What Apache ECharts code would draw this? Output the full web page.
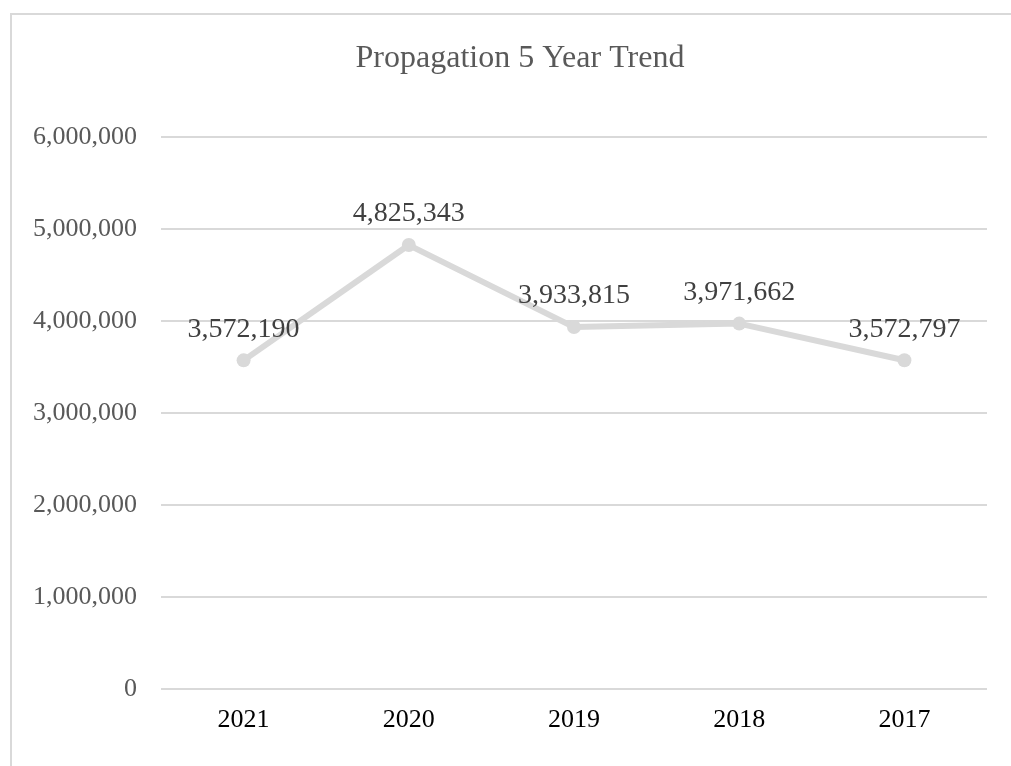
<!DOCTYPE html>
<html>
<head>
<meta charset="utf-8">
<script src="https://cdn.jsdelivr.net/npm/echarts@6/dist/echarts.min.js"></script>
<style>
html,body{margin:0;padding:0;background:#fff;}
#chart{width:1011px;height:766px;}
</style>
</head>
<body>
<div id="chart"></div>
<script>
const titleText = 'Propagation 5 Year Trend';
const categories = ['2021', '2020', '2019', '2018', '2017'];
const values = [3572190, 4825343, 3933815, 3971662, 3572797];
const yMin = 0, yMax = 6000000, yInterval = 1000000;

const font = '"Liberation Serif", "Times New Roman", serif';
const chart = echarts.init(document.getElementById('chart'));
chart.setOption({
  backgroundColor: '#fff',
  animation: false,
  title: {
    text: titleText,
    left: 515,
    top: 38,
    textAlign: 'center',
    textStyle: { fontFamily: font, fontSize: 32, fontWeight: 'normal', color: '#595959' }
  },
  graphic: [{
    type: 'rect',
    shape: { x: 11, y: 14, width: 1100, height: 900 },
    style: { fill: 'none', stroke: '#d9d9d9', lineWidth: 2 },
    silent: true
  }],
  grid: { left: 161, right: 24, top: 137, bottom: 77 },
  xAxis: {
    type: 'category',
    data: categories,
    axisLine: { show: false },
    axisTick: { show: false },
    axisLabel: { fontFamily: font, fontSize: 26, color: '#000', margin: 18 }
  },
  yAxis: {
    type: 'value',
    min: yMin, max: yMax, interval: yInterval,
    axisLine: { show: false },
    axisTick: { show: false },
    splitLine: { lineStyle: { color: '#d9d9d9', width: 2 } },
    axisLabel: {
      fontFamily: font, fontSize: 26, color: '#595959', margin: 24,
      formatter: v => v.toLocaleString('en-US')
    }
  },
  series: [{
    type: 'line',
    data: values,
    lineStyle: { color: '#d9d9d9', width: 6 },
    itemStyle: { color: '#d9d9d9' },
    symbol: 'circle',
    symbolSize: 14,
    label: {
      show: true,
      position: 'top',
      distance: 10,
      fontFamily: font, fontSize: 28, color: '#404040',
      formatter: p => p.value.toLocaleString('en-US')
    }
  }]
});
</script>
</body>
</html>
